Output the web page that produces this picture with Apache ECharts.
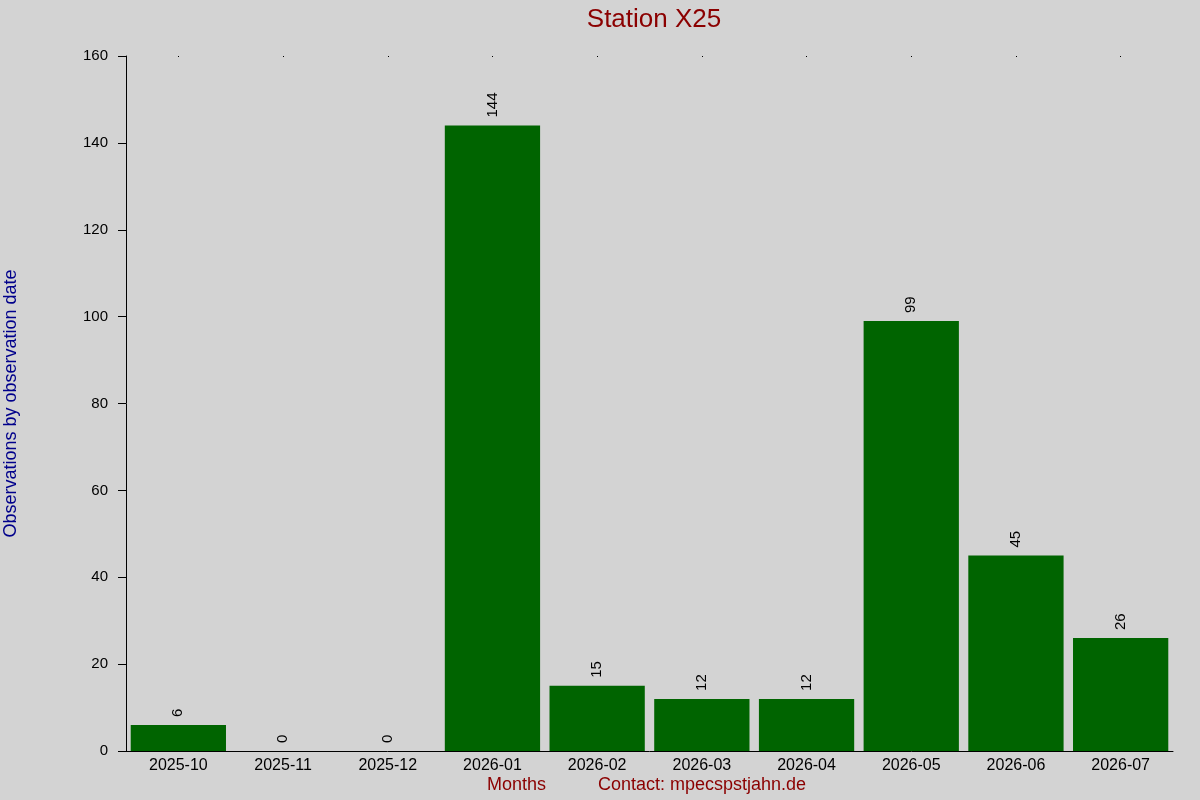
<!DOCTYPE html>
<html lang="en">
<head>
<meta charset="UTF-8">
<title>Station X25</title>
<style>
html, body { margin: 0; padding: 0; background: #d3d3d3; }
#main { width: 1200px; height: 800px; }
</style>
</head>
<body>
<div id="main"></div>

<script src="https://cdn.jsdelivr.net/npm/echarts@6/dist/echarts.min.js"></script>
<script>
var months = ['2025-10', '2025-11', '2025-12', '2026-01', '2026-02', '2026-03', '2026-04', '2026-05', '2026-06', '2026-07'];
var counts = [6, 0, 0, 144, 15, 12, 12, 99, 45, 26];
var yTicks = [0, 20, 40, 60, 80, 100, 120, 140, 160];

var font = '"Liberation Sans", Arial, sans-serif';
var myChart = echarts.init(document.getElementById('main'));

var option = {
    backgroundColor: '#d3d3d3',
    animation: false,
    textStyle: { fontFamily: font },
    title: {
        text: 'Station X25',
        left: 649,
        textAlign: 'center',
        top: 2,
        textStyle: { color: '#8b0000', fontSize: 26, fontWeight: 'normal', fontFamily: font }
    },
    grid: { left: 126, right: 27, top: 56, bottom: 49, containLabel: false, outerBoundsMode: 'none' },
    xAxis: [
        {
            type: 'category',
            data: months,
            axisLine: { lineStyle: { color: '#000', width: 1 } },
            axisTick: { show: false },
            axisLabel: { color: '#000', fontSize: 16, margin: 7, fontFamily: font }
        },
        {
            type: 'category',
            position: 'top',
            data: months,
            axisLine: { show: false },
            axisTick: { show: true, alignWithLabel: true, inside: true, length: 1, lineStyle: { color: '#000' } },
            axisLabel: { show: false }
        }
    ],
    yAxis: {
        type: 'value',
        min: yTicks[0],
        max: yTicks[yTicks.length - 1],
        interval: 20,
        name: 'Observations by observation date',
        nameLocation: 'middle',
        nameGap: 106,
        nameTextStyle: { color: '#00008b', fontSize: 18, fontFamily: font },
        axisLine: { show: true, lineStyle: { color: '#000', width: 1 } },
        axisTick: { show: true, length: 8, lineStyle: { color: '#000' } },
        axisLabel: { color: '#000', fontSize: 15, margin: 18, fontFamily: font },
        splitLine: { show: false }
    },
    series: [
        {
            type: 'bar',
            data: counts,
            barCategoryGap: '9%',
            itemStyle: { color: '#006400' },
            label: {
                show: true,
                position: 'top',
                rotate: 90,
                align: 'left',
                verticalAlign: 'middle',
                distance: 8,
                color: '#000',
                fontSize: 15,
                fontFamily: font
            }
        }
    ],
    graphic: [
        {
            type: 'text',
            left: 487,
            top: 776,
            style: { text: 'Months', fill: '#8b0000', fontSize: 18, fontFamily: font }
        },
        {
            type: 'text',
            left: 598,
            top: 776,
            style: { text: 'Contact: mpecspstjahn.de', fill: '#8b0000', fontSize: 18, fontFamily: font }
        }
    ]
};

myChart.setOption(option);
</script>
</body>
</html>
